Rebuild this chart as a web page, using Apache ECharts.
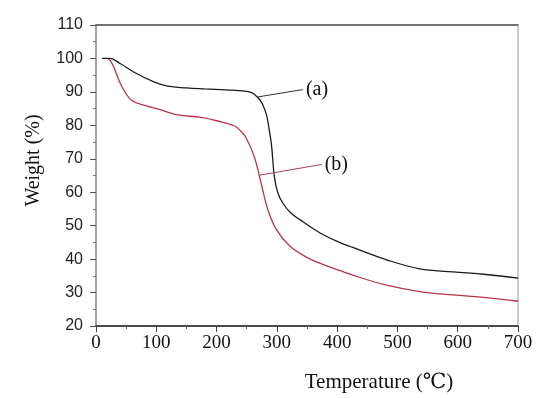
<!DOCTYPE html>
<html><head><meta charset="utf-8">
<script src="https://cdn.jsdelivr.net/npm/echarts@6/dist/echarts.min.js"></script>
<style>html,body{margin:0;padding:0;background:#fff}#c{width:550px;height:398px}</style>
</head><body><div id="c"></div>
<script>
// Curve (a)
var aTemp = [10, 23, 40, 64, 97, 119, 150, 180, 215, 247, 258, 263, 271, 277, 283, 287, 291, 296, 302, 310, 322, 338, 371, 404, 426, 482, 537, 592, 647, 700];
var aWeight = [100, 100, 98.5, 95.8, 92.9, 91.7, 91.2, 90.9, 90.6, 90.25, 89.8, 89.2, 87.8, 86, 83, 79, 74.3, 64.5, 59.6, 56.7, 54, 51.8, 47.9, 45, 43.5, 39.8, 37.1, 36.2, 35.4, 34.3];
// Curve (b)
var bTemp = [20, 25, 31, 42, 59, 81, 108, 136, 175, 208, 230, 240, 249, 263, 274, 285, 299, 321, 349, 371, 404, 426, 482, 537, 592, 647, 700];
var bWeight = [100, 99, 96.8, 91.9, 87.5, 86, 84.6, 83.1, 82.4, 81, 79.8, 78.3, 76.3, 70.4, 62.6, 54.8, 48.9, 44, 40.6, 38.8, 36.6, 35.2, 32.2, 30.3, 29.3, 28.5, 27.4];
// Leader lines for labels
var aLeadTemp = [268.7, 343.3], aLeadWeight = [88.5, 90.7], aLabel = '(a)';
var bLeadTemp = [271.5, 374.4], bLeadWeight = [65.1, 68.3], bLabel = '(b)';
// Axes
var xTicks = [0, 700, 100];
var yTicks = [20, 110, 10];
var xTitle = 'Temperature (℃)';
var yTitle = 'Weight (%)';

function zip(a, b) { return a.map(function (v, i) { return [v, b[i]]; }); }

var serif = '"Liberation Serif", "DejaVu Serif", serif';
var sans = '"Liberation Sans", Arial, sans-serif';

var chart = echarts.init(document.getElementById('c'), null, {renderer: 'canvas'});
function leader(t, w, txt, color) {
  return {
    type: 'line', data: zip(t, w), symbol: 'none', silent: true,
    lineStyle: {color: color, width: 1},
    endLabel: {show: true, formatter: txt, fontFamily: serif, fontSize: 20, color: '#111', distance: 3}
  };
}
chart.setOption({
  animation: false,
  grid: {left: 96, right: 32, top: 25, bottom: 66, show: true, borderColor: '#999', borderWidth: 1},
  xAxis: [{
    type: 'value', min: xTicks[0], max: xTicks[1], interval: xTicks[2],
    name: xTitle, nameLocation: 'middle', nameGap: 46,
    nameTextStyle: {fontFamily: serif, fontSize: 21, color: '#111', padding: [0, 0, 0, 144]},
    axisLine: {show: true, lineStyle: {color: '#222', width: 1.5}},
    axisTick: {show: true, inside: false, length: 6, lineStyle: {color: '#444'}},
    minorTick: {show: true, splitNumber: 2, length: 3, lineStyle: {color: '#666'}},
    axisLabel: {fontFamily: serif, fontSize: 19, color: '#111', margin: 8},
    splitLine: {show: false}
  }, {
    type: 'value', position: 'top', min: xTicks[0], max: xTicks[1],
    axisLine: {show: true, lineStyle: {color: '#555', width: 1.5}},
    axisTick: {show: false}, axisLabel: {show: false}, splitLine: {show: false}
  }],
  yAxis: [{
    type: 'value', min: yTicks[0], max: yTicks[1], interval: yTicks[2],
    name: yTitle, nameLocation: 'middle', nameGap: 52, nameRotate: 90,
    nameTextStyle: {fontFamily: serif, fontSize: 20, color: '#111', padding: [0, 0, 0, 30]},
    axisLine: {show: true, lineStyle: {color: '#777', width: 1.5}},
    axisTick: {show: true, inside: false, length: 6, lineStyle: {color: '#555'}},
    minorTick: {show: true, splitNumber: 2, length: 3, lineStyle: {color: '#777'}},
    axisLabel: {fontFamily: sans, fontSize: 16, color: '#222', margin: 13},
    splitLine: {show: false}
  }, {
    type: 'value', position: 'right', min: yTicks[0], max: yTicks[1],
    axisLine: {show: true, lineStyle: {color: '#aaa', width: 1.5}},
    axisTick: {show: false}, axisLabel: {show: false}, splitLine: {show: false}
  }],
  series: [
    {type: 'line', data: zip(aTemp, aWeight), symbol: 'none', smooth: 0.4,
     lineStyle: {color: '#1a1a1a', width: 1.3}},
    {type: 'line', data: zip(bTemp, bWeight), symbol: 'none', smooth: 0.4,
     lineStyle: {color: '#b8344a', width: 1.3}},
    leader(aLeadTemp, aLeadWeight, aLabel, '#333'),
    leader(bLeadTemp, bLeadWeight, bLabel, '#a8405e')
  ]
});
</script></body></html>
